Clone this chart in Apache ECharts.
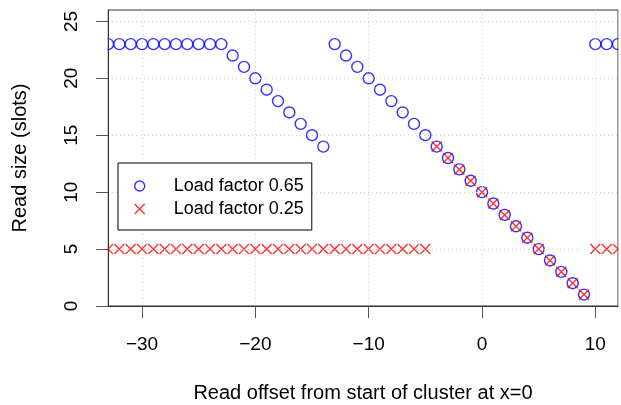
<!DOCTYPE html>
<html><head><meta charset="utf-8">
<script src="https://cdn.jsdelivr.net/npm/echarts@6/dist/echarts.min.js"></script>
<style>html,body{margin:0;padding:0;background:#fff}#c{width:621px;height:405px}</style>
</head><body><div id="c"></div>
<script>
// ---- data ----
const offsets = [-33,-32,-31,-30,-29,-28,-27,-26,-25,-24,-23,-22,-21,-20,-19,-18,-17,-16,-15,-14,
  -13,-12,-11,-10,-9,-8,-7,-6,-5,-4,-3,-2,-1,0,1,2,3,4,5,6,7,8,9,10,11,12];
const readSize065 = [23,23,23,23,23,23,23,23,23,23,23,22,21,20,19,18,17,16,15,14,
  23,22,21,20,19,18,17,16,15,14,13,12,11,10,9,8,7,6,5,4,3,2,1,23,23,23];
const readSize025 = [5,5,5,5,5,5,5,5,5,5,5,5,5,5,5,5,5,5,5,5,
  5,5,5,5,5,5,5,5,5,14,13,12,11,10,9,8,7,6,5,4,3,2,1,5,5,5];
const seriesNames = ['Load factor 0.65','Load factor 0.25'];
const xTicks = [-30,-20,-10,0,10];
const yTicks = [0,5,10,15,20,25];
const xRange = [-33, 12];
const yRange = [0, 26];
const xTitle = 'Read offset from start of cluster at x=0';
const yTitle = 'Read size (slots)';

// ---- chart ----
const FONT = '"Liberation Sans", Arial, Helvetica, sans-serif';
const crossPath = 'path://M0,0L10,10M10,0L0,10';
const fmt = v => v < 0 ? '\u2212' + Math.abs(v) : String(v);
const pts = ys => offsets.map((x, i) => [x, ys[i]]);

const chart = echarts.init(document.getElementById('c'), null, {renderer: 'canvas'});
chart.setOption({
  animation: false,
  backgroundColor: '#fff',
  textStyle: {fontFamily: FONT},
  grid: {left: 108, right: 3, top: 10, bottom: 99, show: true, borderColor: '#333', borderWidth: 1,
         backgroundColor: 'transparent', outerBoundsMode: 'none', containLabel: false},
  legend: {
    orient: 'vertical', left: 118, top: 163, z: 20,
    padding: [14, 8, 12, 16], itemGap: 5,
    itemWidth: 10, itemHeight: 10,
    borderColor: '#000', borderWidth: 1, backgroundColor: '#fff',
    textStyle: {fontSize: 18, color: '#000', fontFamily: FONT, padding: [0, 0, 0, 24]},
    data: [
      {name: seriesNames[0], icon: 'circle', itemStyle: {color: 'transparent', borderColor: '#0000ff', borderWidth: 1.4}},
      {name: seriesNames[1], icon: crossPath, itemStyle: {color: 'transparent', borderColor: '#ff0000', borderWidth: 1.4}}
    ]
  },
  xAxis: {
    type: 'value', min: xRange[0], max: xRange[1], z: 10,
    name: xTitle, nameLocation: 'middle', nameGap: 77,
    nameTextStyle: {fontSize: 20, color: '#000', fontFamily: FONT},
    axisLine: {show: true, onZero: false, lineStyle: {color: '#333', width: 1}},
    axisTick: {show: true, customValues: xTicks, length: 12, lineStyle: {color: '#555', width: 1}},
    axisLabel: {customValues: xTicks, formatter: fmt, fontSize: 19, color: '#000', margin: 29, fontFamily: FONT},
    splitLine: {show: true, lineStyle: {color: '#cfcfcf', type: [1, 3], width: 1}}
  },
  yAxis: {
    type: 'value', min: yRange[0], max: yRange[1], z: 10,
    name: yTitle, nameLocation: 'middle', nameGap: 78, nameRotate: 90,
    nameTextStyle: {fontSize: 20, color: '#000', fontFamily: FONT},
    axisLine: {show: true, onZero: false, lineStyle: {color: '#333', width: 1}},
    axisTick: {show: true, customValues: yTicks, length: 12, lineStyle: {color: '#555', width: 1}},
    axisLabel: {customValues: yTicks, rotate: 90, fontSize: 19, color: '#000', margin: 27, fontFamily: FONT},
    splitLine: {show: true, lineStyle: {color: '#cfcfcf', type: [1, 3], width: 1}}
  },
  series: [
    {name: seriesNames[0], type: 'scatter', data: pts(readSize065), symbol: 'circle', symbolSize: 11,
     itemStyle: {color: 'transparent', borderColor: '#0000ff', borderWidth: 1.4}, z: 2},
    {name: seriesNames[1], type: 'scatter', data: pts(readSize025), symbol: crossPath, symbolSize: 10,
     itemStyle: {color: 'transparent', borderColor: '#ff0000', borderWidth: 1.4}, z: 3}
  ]
});

// white masks just outside the plot box so edge markers are clipped like the reference
const tl = chart.convertToPixel({gridIndex: 0}, [xRange[0], yRange[1]]);
const br = chart.convertToPixel({gridIndex: 0}, [xRange[1], yRange[0]]);
chart.setOption({
  graphic: [
    {type: 'rect', z: 5, silent: true, shape: {x: tl[0] - 10, y: tl[1] - 8, width: 9.5, height: br[1] - tl[1] + 16}, style: {fill: '#fff'}},
    {type: 'rect', z: 5, silent: true, shape: {x: br[0] + 0.5, y: tl[1] - 8, width: 10, height: br[1] - tl[1] + 16}, style: {fill: '#fff'}}
  ]
});
</script></body></html>
